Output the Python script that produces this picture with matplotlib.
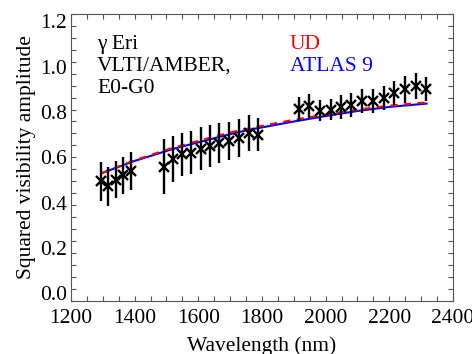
import numpy as np
import matplotlib
matplotlib.use('Agg')
import matplotlib.pyplot as plt
from matplotlib.ticker import MultipleLocator
from matplotlib.transforms import ScaledTranslation

plt.rcParams['font.family'] = ['Liberation Serif', 'DejaVu Serif']

# measured squared visibilities, three spectral groups
wl1 = [1293, 1316, 1340, 1363, 1388]
v1 = [0.499, 0.478, 0.506, 0.524, 0.544]
e1 = [0.080, 0.083, 0.077, 0.077, 0.080]

wl2 = [1492, 1520, 1549, 1577, 1607, 1637, 1665, 1696, 1728, 1759, 1787]
v2 = [0.560, 0.593, 0.613, 0.619, 0.635, 0.646, 0.660, 0.667, 0.681, 0.702, 0.695]
e2 = [0.115, 0.095, 0.090, 0.090, 0.090, 0.088, 0.085, 0.080, 0.078, 0.075, 0.070]

wl3 = [1916, 1948, 1982, 2017, 2048, 2080, 2114, 2149, 2183, 2215, 2249, 2284, 2315]
v3 = [0.804, 0.814, 0.796, 0.800, 0.810, 0.820, 0.834, 0.835, 0.848, 0.870,
      0.884, 0.898, 0.887]
e3 = [0.050, 0.050, 0.045, 0.045, 0.050, 0.050, 0.050, 0.050, 0.050, 0.050,
      0.055, 0.055, 0.050]

# model curves
wl_mod = [1295, 1400, 1520, 1600, 1700, 1762, 1900, 2014, 2100, 2200, 2317]
v_atlas = [0.533, 0.585, 0.635, 0.663, 0.697, 0.716, 0.750, 0.776, 0.794, 0.811, 0.825]
v_ud = [0.533, 0.588, 0.640, 0.669, 0.704, 0.722, 0.757, 0.782, 0.800, 0.816, 0.830]

xticks = [1200, 1400, 1600, 1800, 2000, 2200, 2400]
yticks = [0.0, 0.2, 0.4, 0.6, 0.8, 1.0, 1.2]

fs = 15.5

fig = plt.figure(figsize=(4.72, 3.54), dpi=100)
ax = fig.add_axes([0.1504, 0.1506, 0.8093, 0.8099])

ax.plot(wl_mod, v_atlas, color='#0000ff', lw=1.5, zorder=3)
ax.plot(wl_mod, v_ud, color='#ff0000', lw=1.5, ls=(0, (3.5, 3)), zorder=4)

for wl, v, e in [(wl1, v1, e1), (wl2, v2, e2), (wl3, v3, e3)]:
    ax.errorbar(wl, v, yerr=e, fmt='x', color='black', ms=6.5, mew=1.7,
                elinewidth=1.7, capsize=0, zorder=5)

ax.text(1282, 1.073, '\u03b3 Eri', fontsize=fs, va='center')
ax.text(1282, 0.981, 'VLTI/AMBER,', fontsize=fs, va='center')
ax.text(1282, 0.889, 'E0-G0', fontsize=fs, va='center')
ax.text(1888, 1.073, 'UD', fontsize=fs, va='center', color='#ff0000')
ax.text(1888, 0.981, 'ATLAS 9', fontsize=fs, va='center', color='#0000ff')

ax.set_xlim(1200, 2400)
ax.set_ylim(0, 1.2)
ax.set_xticks(xticks)
ax.set_yticks(yticks)
ax.set_yticklabels(['%.1f' % t for t in yticks])
ax.xaxis.set_minor_locator(MultipleLocator(50))
ax.yaxis.set_minor_locator(MultipleLocator(0.05))
ax.tick_params(which='both', direction='in', top=True, right=True,
               length=3.6, width=0.8, color='#555555', labelsize=fs,
               labelcolor='black')
ax.tick_params(axis='y', pad=3)
ax.tick_params(axis='x', pad=6)
for s in ax.spines.values():
    s.set_color('#555555')
    s.set_linewidth(0.8)

# IDL-style labels sit a little inward of their ticks
for lbl, t in zip(ax.get_yticklabels(), yticks):
    lbl.set_transform(lbl.get_transform() +
                      ScaledTranslation(0, -(t - 0.6) * 0.12, fig.dpi_scale_trans))

ax.set_xlabel('Wavelength (nm)', fontsize=fs, labelpad=6)
ax.set_ylabel('Squared visibility amplitude', fontsize=fs, labelpad=3)

fig.savefig('out.png', dpi=100)
